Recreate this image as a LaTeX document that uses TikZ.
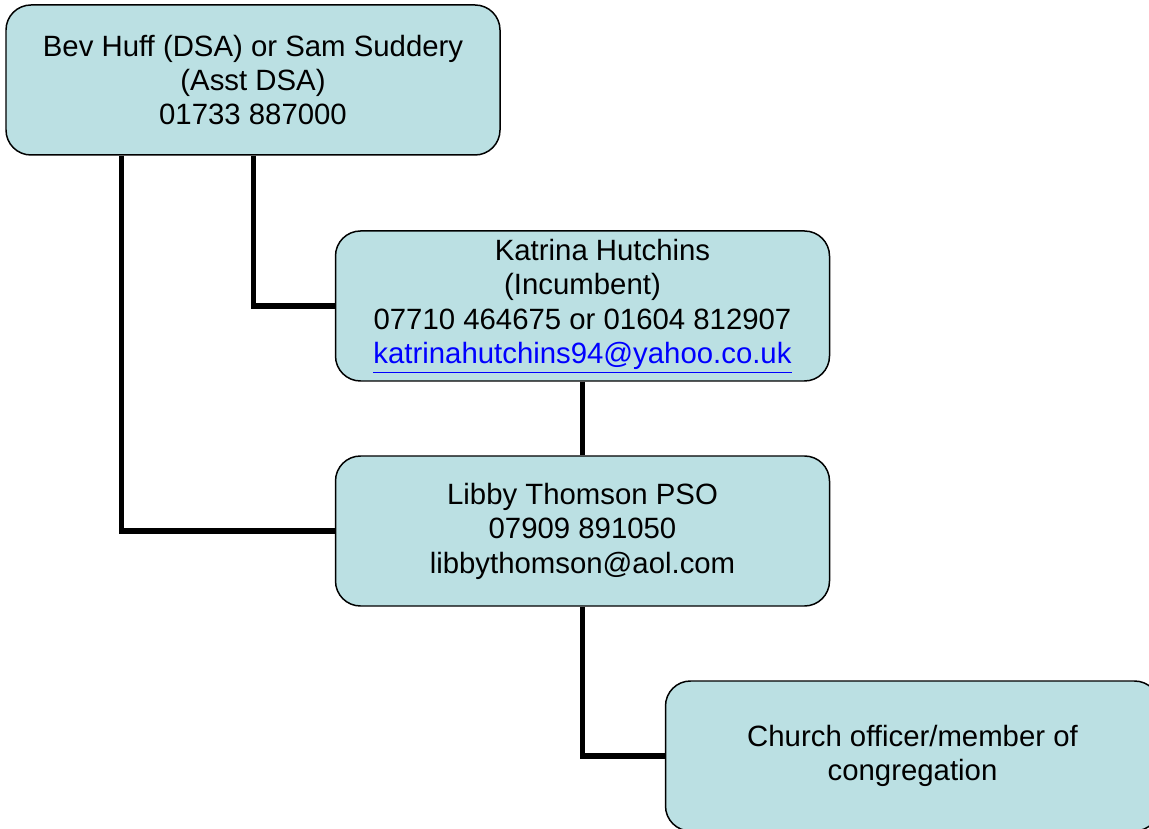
\documentclass[tikz,border=0pt]{standalone}
\usepackage{fontspec}
\setmainfont{Liberation Sans}
\usepackage{tikz}
\definecolor{boxblue}{HTML}{BBE0E3}

\begin{document}
\begin{tikzpicture}[box/.style={draw,fill=boxblue,rounded corners=0.5cm,line width=0.85pt,
			minimum width=9.88cm,minimum height=3cm,inner sep=0pt,align=center,
			font=\fontsize{16.7}{19.6}\selectfont},
			link/.style={line width=2.85pt}]
		\useasboundingbox (0,0) rectangle (22.98,-16.58);
		\clip (0,0) rectangle (22.98,-16.58);
		\node[box] (dsa) at (5.06,-1.6) {Bev Huff (DSA) or Sam Suddery\\(Asst DSA)\\01733 887000};
		\node[box] (inc) at (11.65,-6.12) {\hspace*{0.8cm}Katrina Hutchins\\(Incumbent)\\07710 464675 or 01604 812907\\
			\textcolor{blue}{\underline{katrinahutchins94@yahoo.co.uk}}};
		\node[box] (pso) at (11.65,-10.62) {Libby Thomson PSO\\07909 891050\\libbythomson@aol.com};
		\node[box] (mem) at (18.25,-15.12) {Church officer/member of\\congregation};
		\draw[link] ([xshift=2.32cm]dsa.south west) |- (pso.west);
		\draw[link] ([xshift=4.96cm]dsa.south west) |- (inc.west);
		\draw[link] (inc.south) -- (pso.north);
		\draw[link] (pso.south) |- (mem.west);
		\end{tikzpicture}
\end{document}
